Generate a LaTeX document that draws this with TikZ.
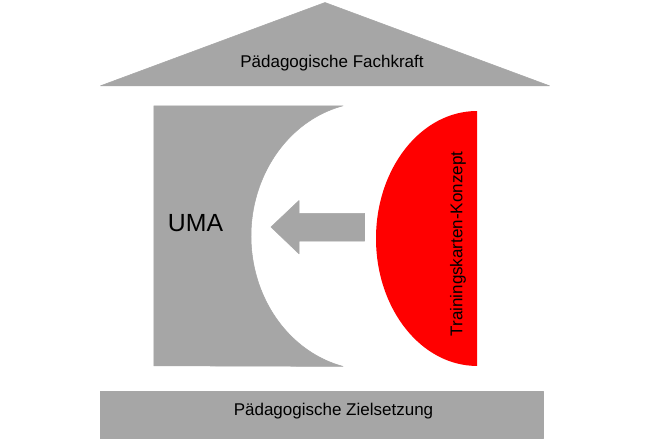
\documentclass[tikz,border=0pt]{standalone}
\usepackage{fontspec}
\setmainfont{Liberation Sans}
\definecolor{shapegray}{RGB}{166,166,166}
\tikzset{
  grayshape/.style={fill=shapegray,draw=shapegray,line width=0.4pt,line join=round},
  redshape/.style={fill=red,draw=none},
  smalllabel/.style={inner sep=0pt,font=\fontsize{12.75}{15}\selectfont,text=black},
  biglabel/.style={inner sep=0pt,font=\fontsize{18.6}{22}\selectfont,text=black}
}
\begin{document}
\begin{tikzpicture}[x=0.75pt,y=-0.75pt]
\useasboundingbox (0,0) rectangle (660,440);
\fill[white] (0,0) rectangle (660,440);
% roof
\path[grayshape] (100.5,85.8) -- (325,2.5) -- (549.5,85.8) -- cycle;
\node[smalllabel] (fachkraft) at (332,63.5) {Pädagogische Fachkraft};
% body
\path[grayshape] (153.8,105.8) -- (343,105.8) arc[start angle=103.5,end angle=256.5,x radius=90pt,y radius=100.5pt] -- (153.8,365.8) -- cycle;
\node[biglabel] (uma) at (195.5,223.5) {UMA};
% red half ellipse
\path[redshape] (477,111) arc[start angle=90,end angle=270,x radius=75.75pt,y radius=95.6pt] -- cycle;
\node[smalllabel,rotate=90] (konzept) at (458,244) {Trainingskarten-Konzept};
% arrow
\path[grayshape] (364.5,213.3) -- (299,213.3) -- (299,200.5) -- (271,227) -- (299,253.8) -- (299,241) -- (364.5,241) -- cycle;
% base
\path[grayshape] (100.3,391.3) rectangle (543,438.5);
\node[smalllabel] (ziel) at (333.5,411.5) {Pädagogische Zielsetzung};
\end{tikzpicture}
\end{document}
